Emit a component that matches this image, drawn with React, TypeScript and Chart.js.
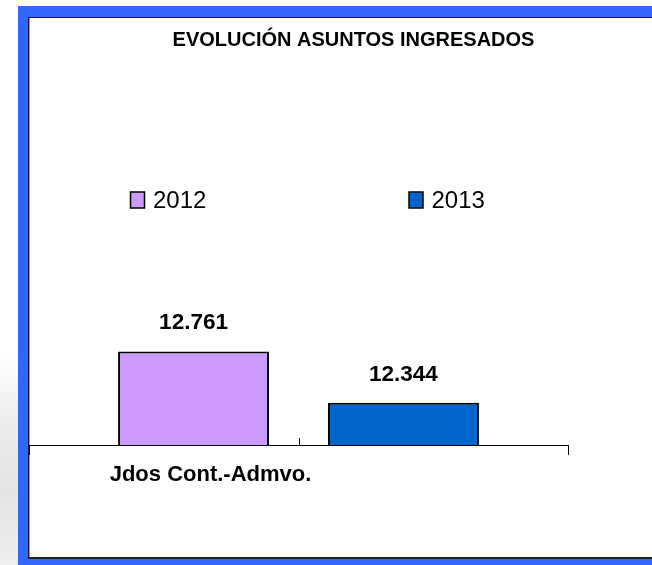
import React, { useEffect, useRef } from "react";
import { Chart, registerables } from "chart.js";

Chart.register(...registerables);

// ---- data ----
const categories = ["Jdos Cont.-Admvo."];
const seriesLabels = ["2012", "2013"];
const values2012 = [12761];
const values2013 = [12344];
const seriesColors = ["#CC99FF", "#0066CC"];
const yMin = 12000;
const yMax = 13000;
const titleText = "EVOLUCIÓN ASUNTOS INGRESADOS";

const FONT = "'Liberation Sans', Arial, sans-serif";

function fmt(v: number): string {
  return String(Math.round(v)).replace(/\B(?=(\d{3})+(?!\d))/g, ".");
}

const valueLabels = {
  id: "valueLabels",
  afterDatasetsDraw(chart: any) {
    const ctx = chart.ctx;
    ctx.save();
    ctx.font = `bold 22.5px ${FONT}`;
    ctx.fillStyle = "#000";
    ctx.textAlign = "center";
    ctx.textBaseline = "alphabetic";
    chart.data.datasets.forEach((ds: any, i: number) => {
      const meta = chart.getDatasetMeta(i);
      meta.data.forEach((el: any, j: number) => {
        ctx.fillText(fmt(ds.data[j]), el.x, el.y - 22);
      });
    });
    ctx.restore();
  },
};

const centerTick = {
  id: "centerTick",
  afterDraw(chart: any) {
    const xs = chart.scales.x;
    const ctx = chart.ctx;
    const bottom = chart.chartArea.bottom;
    ctx.save();
    ctx.strokeStyle = "#000";
    ctx.lineWidth = 1;
    xs.ticks.forEach((_: any, i: number) => {
      const x = Math.round(xs.getPixelForTick(i)) + 0.5;
      ctx.beginPath();
      ctx.moveTo(x, bottom);
      ctx.lineTo(x, bottom - 7);
      ctx.stroke();
    });
    ctx.restore();
  },
};

const boxLegend = {
  id: "boxLegend",
  afterDraw(chart: any) {
    const ctx = chart.ctx;
    const itemX = [101.5, 380];
    const boxTop = 174;
    ctx.save();
    ctx.font = `24px ${FONT}`;
    ctx.textBaseline = "alphabetic";
    ctx.textAlign = "left";
    chart.data.datasets.forEach((ds: any, i: number) => {
      const x = itemX[i];
      ctx.fillStyle = ds.backgroundColor;
      ctx.fillRect(x, boxTop, 14, 16);
      ctx.lineWidth = 1.5;
      ctx.strokeStyle = "#000";
      ctx.strokeRect(x, boxTop, 14, 16);
      ctx.fillStyle = "#000";
      ctx.fillText(ds.label, x + 22.5, 190);
    });
    ctx.restore();
  },
};

export default function App() {
  const ref = useRef<HTMLCanvasElement>(null);

  useEffect(() => {
    if (!ref.current) return;
    const chart = new Chart(ref.current, {
      type: "bar",
      data: {
        labels: categories,
        datasets: [
          {
            label: seriesLabels[0],
            data: values2012,
            backgroundColor: seriesColors[0],
            borderColor: "#000",
            borderWidth: 2,
            borderSkipped: false,
            categoryPercentage: 0.779,
            barPercentage: 0.719,
          },
          {
            label: seriesLabels[1],
            data: values2013,
            backgroundColor: seriesColors[1],
            borderColor: "#000",
            borderWidth: 2,
            borderSkipped: false,
            categoryPercentage: 0.779,
            barPercentage: 0.719,
          },
        ],
      } as any,
      options: {
        animation: false,
        responsive: false,
        maintainAspectRatio: false,
        layout: { padding: 0 },
        plugins: {
          legend: { display: false },
          tooltip: { enabled: false },
          title: {
            display: true,
            text: titleText,
            color: "#000",
            font: { family: FONT, size: 20, weight: "bold" },
            padding: { top: 10, bottom: 270 },
          },
        },
        scales: {
          x: {
            grid: {
              display: true,
              drawOnChartArea: false,
              drawTicks: true,
              tickLength: 10,
              color: "#000",
              lineWidth: 1,
              offset: true,
            },
            border: { display: true, color: "#000", width: 1 },
            ticks: {
              color: "#000",
              font: { family: FONT, size: 22, weight: "bold" },
              padding: 7,
              labelOffset: -88,
            },
            afterFit: (s: any) => {
              s.height = 112;
            },
          },
          y: { display: false, min: yMin, max: yMax },
          pad: {
            type: "linear",
            position: "right",
            display: true,
            grid: { display: false },
            border: { display: false },
            ticks: { display: false },
            afterFit: (s: any) => {
              s.width = 110;
            },
          },
        },
      } as any,
      plugins: [valueLabels, centerTick, boxLegend],
    });
    return () => chart.destroy();
  }, []);

  return (
    <div
      style={{
        position: "fixed",
        left: 0,
        top: 0,
        width: 652,
        height: 565,
        overflow: "hidden",
        background: "#fff",
      }}
    >
      <div
        style={{
          position: "absolute",
          left: 0,
          top: 0,
          width: 18,
          height: 565,
          background:
            "linear-gradient(to bottom, #ffffff 0%, #ffffff 62%, #ececec 75%, #e4e4e4 87%, #eeeeee 100%)",
        }}
      />
      <div
        style={{
          position: "absolute",
          left: 18,
          top: 6,
          width: 634,
          height: 559,
          background: "#3366FF",
        }}
      />
      <div
        style={{
          position: "absolute",
          left: 28,
          top: 17,
          width: 640,
          height: 542,
          boxSizing: "border-box",
          background: "#fff",
          borderTop: "1px solid #1a1a1a",
          borderLeft: "1px solid #1a1a1a",
          borderBottom: "2px solid #222",
          boxShadow: "inset 1px 0 0 #9a9a9a",
        }}
      />
      <canvas
        ref={ref}
        width={649}
        height={539}
        style={{ position: "absolute", left: 29, top: 18, width: 649, height: 539 }}
      />
    </div>
  );
}
